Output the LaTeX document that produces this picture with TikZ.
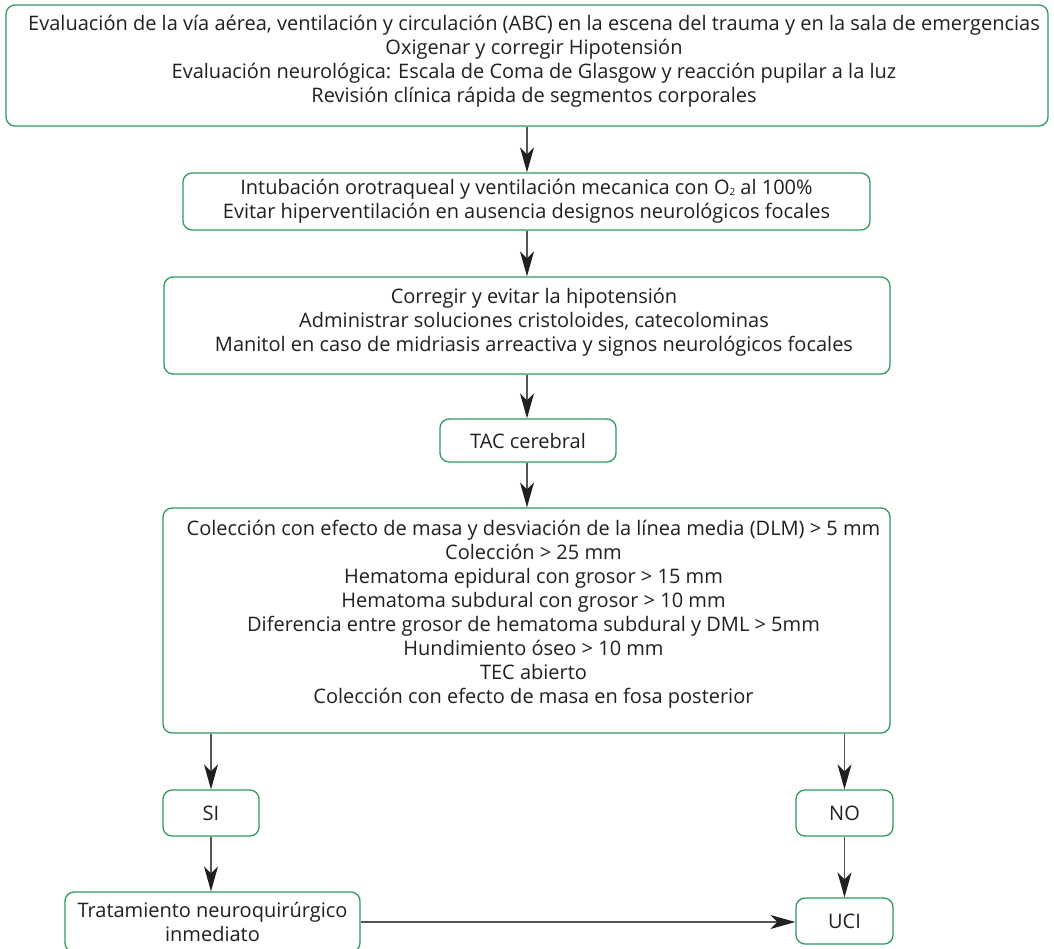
\documentclass[tikz,border=0pt]{standalone}
\usepackage{fontspec}
\setmainfont{Open Sans}
\usetikzlibrary{arrows.meta}
\definecolor{boxgreen}{HTML}{2E9A5E}
\definecolor{txt}{HTML}{231F20}
\definecolor{linegray}{HTML}{555555}
% centred block of lines, nudged right by #1 and up by #2 (box size kept)
\newcommand\nudgedlines[3]{\raisebox{#2}[\height][\depth]{\hspace*{#1}\begin{tabular}{@{}c@{}}#3\end{tabular}}}
\tikzset{
  box/.style={draw=boxgreen, line width=1.3pt, rounded corners=9pt, align=center,
    text=txt, font=\fontsize{20}{24}\selectfont, inner sep=0pt},
  arr/.style={draw=linegray, line width=1.3pt,
    -{Stealth[length=25pt, width=14pt, inset=7pt, fill=txt, color=txt]}},
}
\begin{document}
\begin{tikzpicture}[x=1pt, y=-1pt]
\useasboundingbox (0,0) rectangle (1054,948);
\fill[white] (0,0) rectangle (1054,948);

\node[box, minimum width=1042pt, minimum height=121pt] (abc) at (527,65.5)
  {\nudgedlines{14pt}{4pt}{Evaluación de la vía aérea, ventilación y circulación (ABC) en la escena del trauma y en la sala de emergencias\\
   Oxigenar y corregir Hipotensión\\
   Evaluación neurológica: Escala de Coma de Glasgow y reacción pupilar a la luz\\
   Revisión clínica rápida de segmentos corporales}};

\node[box, minimum width=687pt, minimum height=57pt] (iot) at (526.5,201.5)
  {Intubación orotraqueal y ventilación mecanica con O{\fontsize{10}{10}\selectfont\raisebox{-0.2ex}{2}} al 100\%\\
   Evitar hiperventilación en ausencia designos neurológicos focales};

\node[box, minimum width=726pt, minimum height=97pt] (hipo) at (527,325.5)
  {\nudgedlines{14pt}{3pt}{Corregir y evitar la hipotensión\\
   Administrar soluciones cristoloides, catecolominas\\
   Manitol en caso de midriasis arreactiva y signos neurológicos focales}};

\node[box, minimum width=176pt, minimum height=43pt] (tac) at (528,440.5)
  {TAC cerebral};

\node[box, minimum width=727pt, minimum height=225pt] (crit) at (526.5,620.5)
  {\nudgedlines{14pt}{6pt}{Colección con efecto de masa y desviación de la línea media (DLM) > 5 mm\\
   Colección > 25 mm\\
   Hematoma epidural con grosor > 15 mm\\
   Hematoma subdural con grosor > 10 mm\\
   Diferencia entre grosor de hematoma subdural y DML > 5mm\\
   Hundimiento óseo > 10 mm\\
   TEC abierto\\
   Colección con efecto de masa en fosa posterior}};

\node[box, minimum width=96pt, minimum height=46pt] (si) at (211,813) {SI};
\node[box, minimum width=97pt, minimum height=46pt] (no) at (844.5,813) {NO};
\node[box, minimum width=295pt, minimum height=60pt] (trat) at (212.5,922)
  {Tratamiento neuroquirúrgico\\inmediato};
\node[box, minimum width=97pt, minimum height=46pt] (uci) at (844.5,921) {UCI};

\draw[arr] (abc.south) -- (abc.south |- iot.north);
\draw[arr] (iot.south -| abc.south) -- (abc.south |- hipo.north);
\draw[arr] (hipo.south -| abc.south) -- (abc.south |- tac.north);
\draw[arr] (tac.south -| abc.south) -- (abc.south |- crit.north);
\draw[arr] (crit.south -| si.north) -- (si.north);
\draw[arr] (crit.south -| no.north) -- (no.north);
\draw[arr] (si.south) -- (trat.north -| si.south);
\draw[arr] (no.south) -- (uci.north);
\draw[arr] (trat.east) -- (uci.west |- trat.east);
\end{tikzpicture}
\end{document}
